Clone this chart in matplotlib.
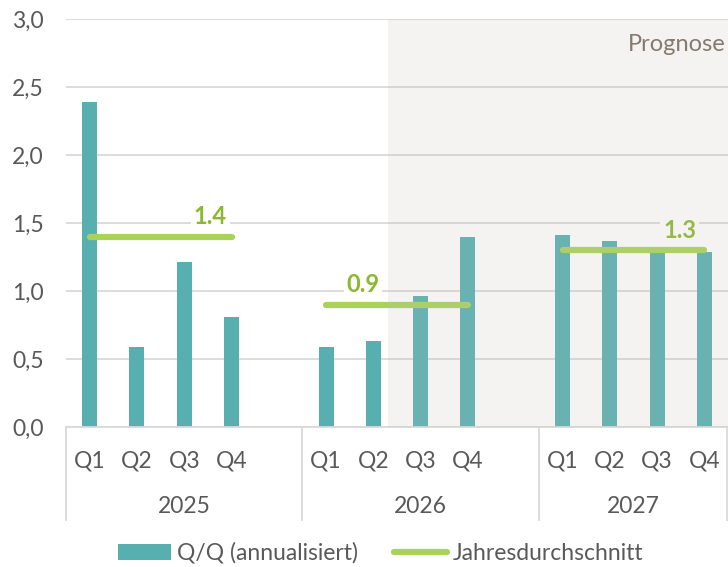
import numpy as np
import matplotlib.pyplot as plt
from matplotlib.patches import Patch, Rectangle
from matplotlib.lines import Line2D

plt.rcParams['font.family'] = ['Lato', 'DejaVu Sans']

# Daten
jahre = ["2025", "2026", "2027"]
quartale = ["Q1", "Q2", "Q3", "Q4"]
werte_2025 = [2.39, 0.59, 1.21, 0.81]
werte_2026 = [0.59, 0.63, 0.96, 1.40]
werte_2027 = [1.41, 1.37, 1.30, 1.29]
durchschnitt = [1.4, 0.9, 1.3]
durchschnitt_labels = ["1.4", "0.9", "1.3"]

teal = "#57AFB0"
gruen = "#A8D25A"
gruen_text = "#8BB82E"
grau = "#595959"
gitter = "#D9D9D9"
fs = 16.5

fig = plt.figure(figsize=(7.28, 5.67), dpi=100)
ax = fig.add_axes([66 / 728, 140 / 567, 662 / 728, 408 / 567])

# Positionen: je Jahr 4 Quartale + eine Lücke
alle_werte = [werte_2025, werte_2026, werte_2027]
positionen = []
for j in range(3):
    positionen.append(np.arange(4) + j * 5)

for j, werte in enumerate(alle_werte):
    ax.bar(positionen[j], werte, width=0.32, color=teal, zorder=2)
    ax.plot([positionen[j][0], positionen[j][-1]], [durchschnitt[j]] * 2,
            color=gruen, lw=4.5, solid_capstyle='round', zorder=3)

# Beschriftung Jahresdurchschnitt
label_x = [2.55, 5.78, 12.48]
label_z = [7, 7, 3.5]
for j in range(3):
    ax.text(label_x[j], durchschnitt[j] + 0.06, durchschnitt_labels[j],
            ha='center', va='bottom', fontsize=17, fontweight='bold',
            color=gruen_text, zorder=label_z[j],
            bbox=dict(facecolor="white", edgecolor='none', pad=2))

# Prognose-Bereich (leicht über den Balken)
ax.add_patch(Rectangle((6.3, 0), 20, 3.0, facecolor="#C2BFBA", alpha=0.18,
                       edgecolor='none', zorder=4))
ax.text(13.45, 2.81, "Prognose", ha='right', va='center', fontsize=17,
        color="#857A6E", zorder=6)

ax.set_xlim(-0.5, 13.5)
ax.set_ylim(0, 3.0)
ax.set_yticks(np.arange(0, 3.01, 0.5))
ax.set_yticklabels([f"{v:.1f}".replace(".", ",") for v in np.arange(0, 3.01, 0.5)])
ax.tick_params(axis='y', length=0, pad=16, labelsize=fs, labelcolor=grau)
ax.set_xticks([])
ax.grid(axis='y', color=gitter, lw=1.3, zorder=0)
for s in ["top", "right", "left"]:
    ax.spines[s].set_visible(False)
ax.spines["bottom"].set_color(gitter)
ax.spines["bottom"].set_linewidth(1.3)

# Kategorienachse in zwei Ebenen
trans = ax.get_xaxis_transform()
trenner = [-0.5, 4.5, 9.5, 13.48]
for j in range(3):
    for i, q in enumerate(quartale):
        ax.text(positionen[j][i], -0.083, q, transform=trans, ha='center',
                va='center', fontsize=fs, color=grau)
    ax.text((trenner[j] + trenner[j + 1]) / 2, -0.196, jahre[j],
            transform=trans, ha='center', va='center', fontsize=fs, color=grau)
for xs in trenner:
    ax.plot([xs, xs], [0, -0.228], transform=trans, color=gitter, lw=1.3,
            clip_on=False)

handles = [Patch(facecolor=teal, edgecolor='none'),
           Line2D([0], [0], color=gruen, lw=4.5, solid_capstyle='round')]
fig.legend(handles, ["Q/Q (annualisiert)", "Jahresdurchschnitt"],
           loc='center', bbox_to_anchor=(0.523, 0.025), ncol=2, frameon=False,
           fontsize=fs, labelcolor=grau, handlelength=2.3, handletextpad=0.25,
           columnspacing=1.6)

fig.savefig("out.png", dpi=100)
